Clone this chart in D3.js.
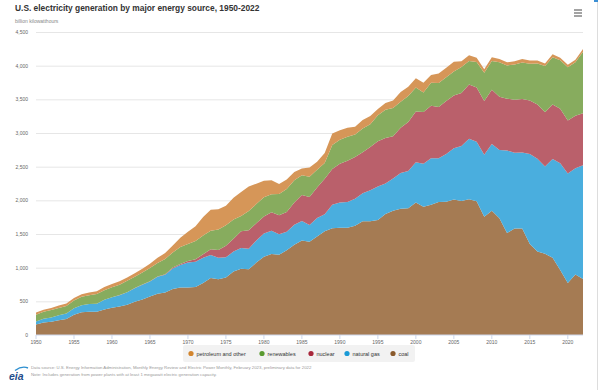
<!DOCTYPE html>
<html><head><meta charset="utf-8">
<script src="https://cdn.jsdelivr.net/npm/d3@7"></script>
<style>body{margin:0;background:#fff;font-family:"Liberation Sans",Arial,sans-serif}</style>
</head><body><svg id="c" width="600" height="390"></svg>
<script>
const years = d3.range(1950, 2023);
const coal = [155,185,195,219,239,301,339,346,344,378,
403,422,450,494,526,571,613,630,685,706,
704,713,771,848,828,853,944,985,976,1075,
1162,1203,1192,1259,1342,1402,1386,1464,1541,1584,
1594,1592,1621,1690,1691,1709,1796,1845,1874,1881,
1966,1904,1933,1974,1978,2013,1991,2016,1986,1756,
1847,1733,1514,1581,1582,1352,1239,1206,1146,965,
773,898,832];
const naturalGas = [45,57,66,74,80,95,104,114,120,147,
158,169,184,202,220,222,251,265,304,333,
373,374,376,341,320,300,295,306,305,329,
346,346,305,274,297,292,249,273,253,352,
373,382,404,415,460,496,455,479,531,556,
601,639,691,650,710,761,816,897,883,921,
988,1014,1226,1125,1127,1335,1379,1296,1469,1586,
1624,1579,1689];
const nuclear = [0,0,0,0,0,0,0,0,0.2,0.2,
0.5,1.7,2.3,3.2,3.3,3.7,5.5,7.7,12.5,13.9,
21.8,38.1,54.1,83.5,114,173,191,251,276,255,
251,273,283,294,328,384,414,455,527,529,
577,613,619,610,640,673,675,629,674,728,
754,769,780,764,789,782,787,806,806,799,
807,790,769,789,797,797,806,805,807,809,
790,778,772];
const renewables = [101,104,110,109,113,116,124,130,146,141,
149,155,169,166,178,197,198,225,225,254,
251,270,276,275,305,303,287,224,284,285,
285,269,315,340,333,294,301,262,234,357,
357,357,333,352,340,385,420,418,385,383,
356,288,343,356,351,358,385,352,380,417,
427,513,495,522,542,544,609,687,703,720,
790,795,913];
const petroleumOther = [34,29,30,37,37,37,38,40,40,47,
48,49,49,52,57,65,79,89,104,138,
184,220,274,314,301,289,320,358,365,304,
246,206,147,144,120,100,137,118,149,170,
140,135,115,125,120,95,100,110,145,140,
135,145,115,140,140,145,85,85,62,52,
56,49,45,48,50,50,45,40,45,37,
35,38,41];
const yTicks = d3.range(0, 4501, 500);
const xTicks = d3.range(1950, 2021, 5);
const seriesKeys = ["coal","natural gas","nuclear","renewables","petroleum and other"];
const seriesData = [coal, naturalGas, nuclear, renewables, petroleumOther];
const areaColors = {"coal":"#a57b53","natural gas":"#4aaede","nuclear":"#ba606b","renewables":"#87ac5e","petroleum and other":"#d69658"};
const dotColors = {"coal":"#8a5a2c","natural gas":"#1a9ad6","nuclear":"#a8283c","renewables":"#5a9a30","petroleum and other":"#d2852e"};
const legendOrder = ["petroleum and other","renewables","nuclear","natural gas","coal"];

const table = years.map((y,i)=>{const o={year:y};seriesKeys.forEach((k,j)=>o[k]=seriesData[j][i]);return o;});
const svg = d3.select("#c");
const x = d3.scaleLinear().domain([1950,2022]).range([36,583]);
const y = d3.scaleLinear().domain([0,4500]).range([335,32]);

// title
svg.append("text").attr("x",15).attr("y",11).attr("font-size",8.4).attr("font-weight","bold").attr("fill","#333")
  .text("U.S. electricity generation by major energy source, 1950-2022");
svg.append("text").attr("x",15).attr("y",22.5).attr("font-size",5).attr("fill","#888").text("billion kilowatthours");

// hamburger
[10,13,16].forEach(v=>svg.append("line").attr("x1",574).attr("x2",582).attr("y1",v).attr("y2",v).attr("stroke","#666").attr("stroke-width",1.2));
// right border
svg.append("line").attr("x1",597.5).attr("x2",597.5).attr("y1",0).attr("y2",390).attr("stroke","#ddd");
svg.append("rect").attr("x",594).attr("y",0).attr("width",4).attr("height",2).attr("fill","#3b8fd4");

// grid
svg.append("g").selectAll("line").data(yTicks.filter(d=>d>0)).join("line")
  .attr("x1",36).attr("x2",583).attr("y1",d=>y(d)+0.5).attr("y2",d=>y(d)+0.5).attr("stroke","#e6e6e6");
svg.append("g").selectAll("text").data(yTicks).join("text")
  .attr("x",28).attr("y",d=>y(d)+2).attr("text-anchor","end").attr("font-size",5).attr("fill","#666")
  .text(d=>d3.format(",")(d));

// areas
const stack = d3.stack().keys(seriesKeys);
const layers = stack(table);
const area = d3.area().x(d=>x(d.data.year)).y0(d=>y(d[0])).y1(d=>y(d[1]));
svg.append("g").selectAll("path").data(layers).join("path")
  .attr("d",area).attr("fill",d=>areaColors[d.key]);

// x axis
const xa = svg.append("g").attr("transform","translate(0,335)");
xa.append("line").attr("x1",36).attr("x2",583).attr("stroke","#ccd6eb");
xa.selectAll("line.t").data(xTicks).join("line").attr("class","t")
  .attr("x1",d=>x(d)).attr("x2",d=>x(d)).attr("y1",0).attr("y2",4).attr("stroke","#ccd6eb");
xa.selectAll("text").data(xTicks).join("text")
  .attr("x",d=>x(d)).attr("y",9).attr("text-anchor","middle").attr("font-size",5).attr("fill","#666").text(d=>d);

// legend
svg.append("rect").attr("x",183).attr("y",345).attr("width",232).attr("height",17).attr("rx",2).attr("fill","#f2f2f2");
const lx = [191,262,311,347,393];
legendOrder.forEach((k,i)=>{
  svg.append("circle").attr("cx",lx[i]).attr("cy",353.5).attr("r",2.6).attr("fill",dotColors[k]);
  svg.append("text").attr("x",lx[i]+5.5).attr("y",355.5).attr("font-size",5.5).attr("fill","#333").text(k);
});

// footer
svg.append("text").attr("x",9).attr("y",380).attr("font-size",10.5).attr("font-weight","bold").attr("font-style","italic")
  .attr("fill","#1f4e8c").attr("font-family","Liberation Sans, Arial").text("eia");
svg.append("path").attr("d","M15,370.5 Q22,365.5 28,368").attr("fill","none").attr("stroke","#2d8fd0").attr("stroke-width",1.4);
svg.append("text").attr("x",31).attr("y",369).attr("font-size",4.3).attr("fill","#999")
  .text("Data source: U.S. Energy Information Administration, Monthly Energy Review and Electric Power Monthly, February 2023, preliminary data for 2022");
svg.append("text").attr("x",31).attr("y",375.5).attr("font-size",4.3).attr("fill","#999")
  .text("Note: Includes generation from power plants with at least 1 megawatt electric generation capacity.");
</script></body></html>
